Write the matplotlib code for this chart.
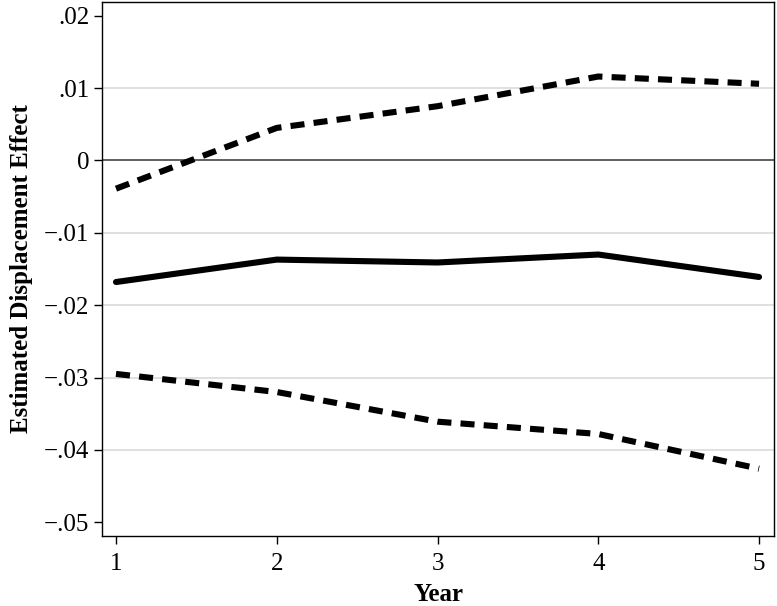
import matplotlib
matplotlib.use("Agg")
import matplotlib.pyplot as plt

years = [1, 2, 3, 4, 5]
estimate = [-0.0168, -0.0137, -0.0141, -0.0130, -0.0161]
upper_ci = [-0.0039, 0.0045, 0.0075, 0.0116, 0.0106]
lower_ci = [-0.0295, -0.0320, -0.0361, -0.0378, -0.0426]
ytick_vals = [0.02, 0.01, 0.0, -0.01, -0.02, -0.03, -0.04, -0.05]
ytick_labels = [".02", ".01", "0", "\u2212.01", "\u2212.02", "\u2212.03", "\u2212.04", "\u2212.05"]
grid_vals = [0.01, -0.01, -0.02, -0.03, -0.04]

plt.rcParams['font.family'] = ['Liberation Serif', 'DejaVu Serif']

fig = plt.figure(figsize=(7.77, 6.06), dpi=100)
ax = fig.add_axes([102/777, 1 - 536/606, (774-102)/777, (536-2)/606])

for g in grid_vals:
    ax.axhline(g, color='#e0e0e0', lw=1.4, zorder=1)
ax.axhline(0, color='#444444', lw=1.2, zorder=2)

ax.plot(years, estimate, color='black', lw=4.4, solid_capstyle='round', solid_joinstyle='round', zorder=3)
ax.plot(years, upper_ci, color='black', lw=4.4, linestyle=(0, (2.3, 1.5)), dash_capstyle='butt', zorder=3)
ax.plot(years, lower_ci, color='black', lw=4.4, linestyle=(0, (2.3, 1.5)), dash_capstyle='butt', zorder=3)

ax.set_xlim(0.913, 5.093)
ax.set_ylim(-0.0519, 0.0219)
ax.set_xticks(years)
ax.set_xticklabels([str(y) for y in years])
ax.set_yticks(ytick_vals)
ax.set_yticklabels(ytick_labels)
ax.tick_params(direction='out', length=6, width=1, labelsize=18)
ax.tick_params(axis='y', pad=3)
ax.tick_params(axis='x', pad=6)
for s in ax.spines.values():
    s.set_linewidth(1.0)
    s.set_color('black')

ax.set_xlabel("Year", fontsize=18, fontweight='bold', labelpad=6)
ax.set_ylabel("Estimated Displacement Effect", fontsize=18, fontweight='bold', labelpad=8)

fig.savefig("out.png", dpi=100)
